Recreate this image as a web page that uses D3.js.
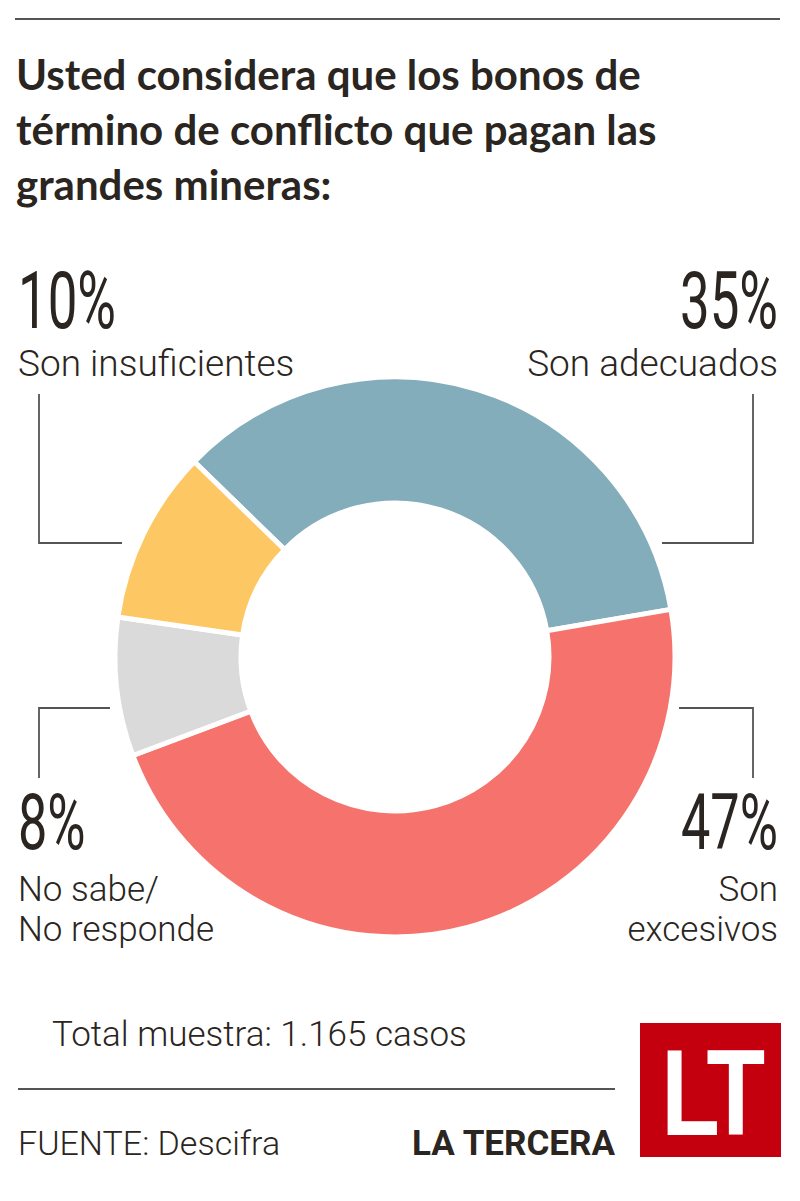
<!DOCTYPE html>
<html>
<head>
<meta charset="utf-8">
<script src="https://cdn.jsdelivr.net/npm/d3@7"></script>
<style>
  body { margin: 0; background: #fff; }
  svg { display: block; }
</style>
</head>
<body>
<script>
// Data
var categories = ["Son adecuados", "Son excesivos", "No sabe/No responde", "Son insuficientes"];
var values = [35, 47, 8, 10];
var colors = ["#84adbb", "#f5736c", "#dadada", "#fdc863"];
var titleLines = ["Usted considera que los bonos de", "término de conflicto que pagan las", "grandes mineras:"];

var svgWidth = 800;
var svgHeight = 1201;
var textColor = "#2a2520";

var svg = d3.select("body")
    .append("svg")
    .attr("width", svgWidth)
    .attr("height", svgHeight);

// Top rule
svg.append("line")
    .attr("x1", 15).attr("x2", 780)
    .attr("y1", 19).attr("y2", 19)
    .attr("stroke", "#555").attr("stroke-width", 2);

// Title
svg.selectAll(".title")
    .data(titleLines)
    .enter()
    .append("text")
    .attr("class", "title")
    .attr("x", 16)
    .attr("y", (d, i) => 90 + i * 55)
    .attr("font-family", "Lato")
    .attr("font-weight", 700)
    .attr("font-size", 42)
    .attr("fill", textColor)
    .text(d => d);

// Donut
var cx = 395, cy = 657;
var outerR = 280, innerR = 154;
var startAngle = -45.8 * Math.PI / 180;

var pie = d3.pie()
    .sort(null)
    .startAngle(startAngle)
    .endAngle(startAngle + 2 * Math.PI);

var arc = d3.arc()
    .innerRadius(innerR)
    .outerRadius(outerR);

var donut = svg.append("g")
    .attr("transform", `translate(${cx}, ${cy})`);

donut.selectAll("path")
    .data(pie(values))
    .enter()
    .append("path")
    .attr("d", arc)
    .attr("fill", (d, i) => colors[i])
    .attr("stroke", "#fff")
    .attr("stroke-width", 5)
    .attr("stroke-linejoin", "round");

// Labels: position per category
var labelPos = [
    { x: 778, y: 328, anchor: "end", lines: ["Son adecuados"], line: [[662, 543], [753, 543], [753, 394]] },
    { x: 778, y: 849, anchor: "end", lines: ["Son", "excesivos"], line: [[679, 708], [753, 708], [753, 778]] },
    { x: 18, y: 849, anchor: "start", lines: ["No sabe/", "No responde"], line: [[110, 708], [39, 708], [39, 778]] },
    { x: 18, y: 328, anchor: "start", lines: ["Son insuficientes"], line: [[122, 543], [39, 543], [39, 394]] }
];

var lineGen = d3.line();

labelPos.forEach(function (p, i) {
    var twoLines = p.lines.length > 1;

    svg.append("path")
        .attr("d", lineGen(p.line))
        .attr("fill", "none")
        .attr("stroke", "#555")
        .attr("stroke-width", 1.8);

    // Big condensed percent
    svg.append("g")
        .attr("transform", `translate(${p.x}, ${p.y}) scale(${twoLines ? 0.67 : 0.66}, 1)`)
        .append("text")
        .attr("text-anchor", p.anchor)
        .attr("font-family", "Roboto")
        .attr("font-weight", 400)
        .attr("font-size", twoLines ? 78 : 80)
        .attr("fill", textColor)
        .text(values[i] + "%");

    // Category label, one text with a tspan per line
    var label = svg.append("text")
        .attr("text-anchor", p.anchor)
        .attr("font-family", "Roboto")
        .attr("font-weight", 300)
        .attr("font-size", twoLines ? 35 : 37)
        .attr("fill", textColor);

    label.selectAll("tspan")
        .data(p.lines)
        .enter()
        .append("tspan")
        .attr("x", p.x)
        .attr("y", (t, j) => twoLines ? p.y + 52 + j * 40 : p.y + 48)
        .text(t => t);
});

// Footer
svg.append("text")
    .attr("x", 52).attr("y", 1046)
    .attr("font-family", "Roboto").attr("font-weight", 300)
    .attr("font-size", 35)
    .attr("fill", textColor)
    .text("Total muestra: 1.165 casos");

svg.append("line")
    .attr("x1", 18).attr("x2", 615)
    .attr("y1", 1089).attr("y2", 1089)
    .attr("stroke", "#555").attr("stroke-width", 2);

svg.append("text")
    .attr("x", 18).attr("y", 1155)
    .attr("font-family", "Roboto").attr("font-weight", 300)
    .attr("font-size", 34)
    .attr("fill", textColor)
    .text("FUENTE: Descifra");

svg.append("text")
    .attr("x", 615).attr("y", 1155)
    .attr("text-anchor", "end")
    .attr("font-family", "Roboto").attr("font-weight", 700)
    .attr("font-size", 35)
    .attr("fill", textColor)
    .text("LA TERCERA");

// Logo
svg.append("rect")
    .attr("x", 640).attr("y", 1023)
    .attr("width", 141).attr("height", 134)
    .attr("fill", "#c4000f");

svg.append("g")
    .attr("transform", "translate(710, 1135) scale(0.78, 1)")
    .append("text")
    .attr("text-anchor", "middle")
    .attr("font-family", "Liberation Sans").attr("font-weight", 700)
    .attr("font-size", 123)
    .attr("letter-spacing", -8)
    .attr("fill", "#fff")
    .text("LT");
</script>
</body>
</html>
